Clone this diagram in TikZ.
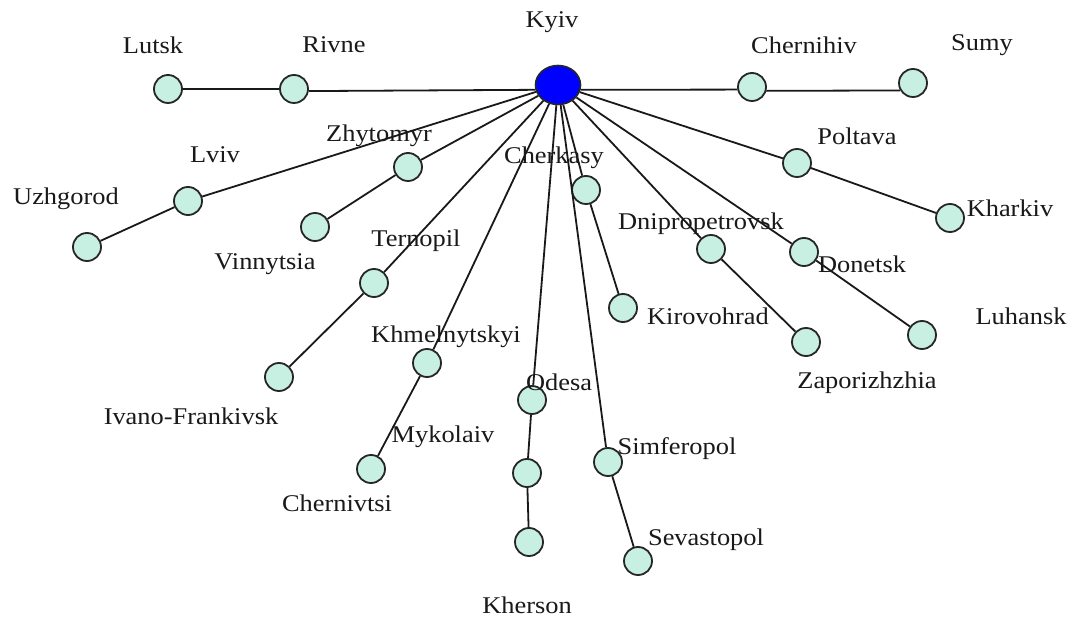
\documentclass[tikz,border=0pt]{standalone}
\usepackage{fontspec}
\usetikzlibrary{shapes.geometric}
\setmainfont{Liberation Serif}[FakeStretch=1.1]
\definecolor{cityfill}{RGB}{200,240,226}
\definecolor{txt}{RGB}{25,25,25}
\begin{document}
\begin{tikzpicture}[x=1pt,y=-1pt,
  city/.style={circle,draw=black!85,line width=1.8pt,fill=cityfill,minimum size=28pt,inner sep=0pt},
  capital/.style={ellipse,draw=black!85,line width=1.6pt,fill=blue,minimum width=45pt,minimum height=39pt,inner sep=0pt},
  lbl/.style={text=txt,font=\fontsize{24}{28}\selectfont,inner sep=0pt,anchor=center},
  edge/.style={draw=black!90,line width=1.8pt}]
\useasboundingbox (0,0) rectangle (1074,617);
\fill[white] (0,0) rectangle (1074,617);
% nodes
\node[capital] (kyiv) at (558,85) {};
\node[city] (lutsk) at (168,89) {};
\node[city] (rivne) at (294,89) {};
\node[city] (chernihiv) at (752,87) {};
\node[city] (sumy) at (913,83) {};
\node[city] (poltava) at (797,163) {};
\node[city] (kharkiv) at (950,218) {};
\node[city] (zhytomyr) at (408,167) {};
\node[city] (lviv) at (188,201) {};
\node[city] (uzhgorod) at (87,247) {};
\node[city] (vinnytsia) at (315,227) {};
\node[city] (cherkasy) at (586,190) {};
\node[city] (dnipro) at (711,249) {};
\node[city] (donetsk) at (804,252) {};
\node[city] (ternopil) at (374,283) {};
\node[city] (kirovohrad) at (623,308) {};
\node[city] (zapor) at (806,342) {};
\node[city] (luhansk) at (922,335) {};
\node[city] (ivano) at (279,377) {};
\node[city] (khmel) at (427,363) {};
\node[city] (cherniv) at (371,469) {};
\node[city] (odesa) at (532,400) {};
\node[city] (mykolaiv) at (527,473) {};
\node[city] (kherson) at (529,542) {};
\node[city] (simfer) at (608,462) {};
\node[city] (sevast) at (638,561) {};
% connectors
\begin{scope}[every path/.style={edge}]
\draw (lutsk) -- (rivne);
\draw (rivne.-8) -- (kyiv.192);
\draw (kyiv.-12) -- (chernihiv.190);
\draw (chernihiv.-15) -- (sumy.210);
\draw (kyiv) -- (poltava);
\draw (poltava) -- (kharkiv);
\draw (kyiv) -- (lviv);
\draw (lviv) -- (uzhgorod);
\draw (kyiv) -- (zhytomyr);
\draw (zhytomyr) -- (vinnytsia);
\draw (kyiv) -- (ternopil);
\draw (ternopil) -- (ivano);
\draw (kyiv) -- (khmel);
\draw (khmel) -- (cherniv);
\draw (kyiv) -- (odesa);
\draw (odesa) -- (mykolaiv);
\draw (mykolaiv) -- (kherson);
\draw (kyiv) -- (simfer);
\draw (simfer) -- (sevast);
\draw (kyiv) -- (cherkasy);
\draw (cherkasy) -- (kirovohrad);
\draw (kyiv) -- (dnipro);
\draw (dnipro) -- (zapor);
\draw (kyiv) -- (donetsk);
\draw (donetsk) -- (luhansk);
\end{scope}
% labels
\node[lbl] (t-lutsk) at (153,45) {Lutsk};
\node[lbl] (t-rivne) at (334,45) {Rivne};
\node[lbl] (t-kyiv) at (552,22) {Kyiv};
\node[lbl] (t-chernihiv) at (804,45) {Chernihiv};
\node[lbl] (t-sumy) at (982,45) {Sumy};
\node[lbl] (t-poltava) at (857,136) {Poltava};
\node[lbl] (t-kharkiv) at (1010,208) {Kharkiv};
\node[lbl] (t-zhytomyr) at (379,136) {Zhytomyr};
\node[lbl] (t-lviv) at (215,155) {Lviv};
\node[lbl] (t-uzhgorod) at (66,199) {Uzhgorod};
\node[lbl] (t-vinnytsia) at (265,264) {Vinnytsia};
\node[lbl] (t-cherkasy) at (554,158) {Cherkasy};
\node[lbl] (t-dnipro) at (701,224) {Dnipropetrovsk};
\node[lbl] (t-donetsk) at (862,264) {Donetsk};
\node[lbl] (t-ternopil) at (416,241) {Ternopil};
\node[lbl] (t-kirovohrad) at (708,316) {Kirovohrad};
\node[lbl] (t-zapor) at (867,383) {Zaporizhzhia};
\node[lbl] (t-luhansk) at (1021,316) {Luhansk};
\node[lbl] (t-ivano) at (191,416) {Ivano-Frankivsk};
\node[lbl] (t-khmel) at (446,337) {Khmelnytskyi};
\node[lbl] (t-odesa) at (559,382) {Odesa};
\node[lbl] (t-mykolaiv) at (443,437) {Mykolaiv};
\node[lbl] (t-cherniv) at (337,503) {Chernivtsi};
\node[lbl] (t-kherson) at (527,605) {Kherson};
\node[lbl] (t-simfer) at (677,449) {Simferopol};
\node[lbl] (t-sevast) at (706,540) {Sevastopol};
\end{tikzpicture}
\end{document}
